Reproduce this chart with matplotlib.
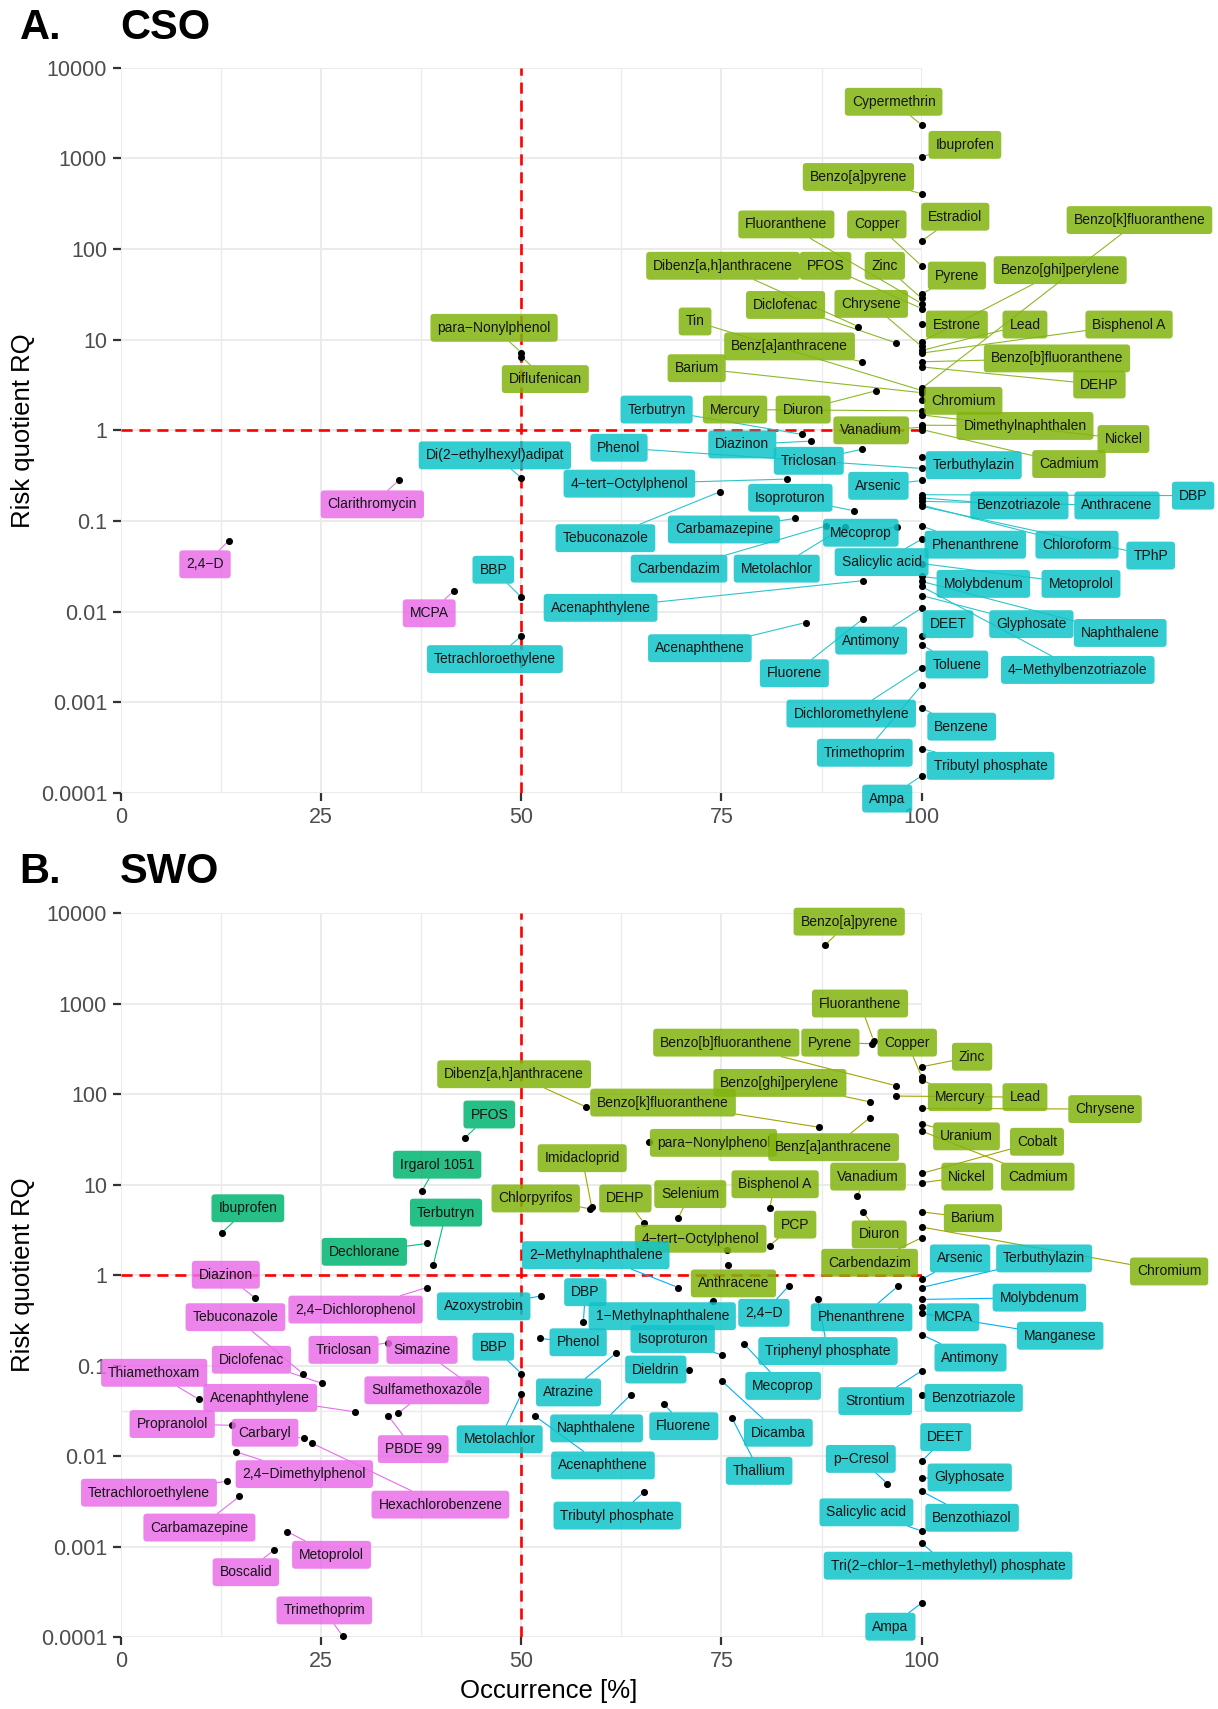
import numpy as np
import matplotlib
matplotlib.use('Agg')
import matplotlib.pyplot as plt
from matplotlib.ticker import NullLocator
from matplotlib import font_manager

plt.rcParams['font.family'] = ['Liberation Sans', 'DejaVu Sans']

# ---------------- CSO data ----------------
cso_names = ['Cypermethrin', 'Ibuprofen', 'Benzo[a]pyrene', 'Estradiol', 'Fluoranthene', 'Copper',
             'Benzo[k]fluoranthene', 'Dibenz[a,h]anthracene', 'PFOS', 'Zinc', 'Pyrene',
             'Benzo[ghi]perylene', 'Diclofenac', 'Chrysene', 'Tin', 'Estrone', 'Lead', 'Bisphenol A',
             'Benz[a]anthracene', 'Benzo[b]fluoranthene', 'Barium', 'DEHP', 'Chromium', 'Mercury',
             'Diuron', 'Vanadium', 'Dimethylnaphthalen', 'Nickel', 'Cadmium', 'para-Nonylphenol',
             'Diflufenican',
             'Terbutryn', 'Phenol', 'Di(2-ethylhexyl)adipat', 'Diazinon', 'Triclosan',
             '4-tert-Octylphenol', 'Arsenic', 'Isoproturon', 'Terbuthylazin', 'Benzotriazole',
             'Anthracene', 'DBP', 'Tebuconazole', 'Carbamazepine', 'Carbendazim', 'Metolachlor',
             'Mecoprop', 'Salicylic acid', 'Phenanthrene', 'Chloroform', 'TPhP', 'BBP', 'Molybdenum',
             'Metoprolol', 'Acenaphthylene', 'DEET', 'Glyphosate', 'Naphthalene', 'Acenaphthene',
             'Antimony', 'Toluene', '4-Methylbenzotriazole', 'Tetrachloroethylene', 'Fluorene',
             'Dichloromethylene', 'Benzene', 'Trimethoprim', 'Tributyl phosphate', 'Ampa',
             '2,4-D', 'Clarithromycin', 'MCPA']
cso_occ = [100, 100, 100, 100, 100, 100, 100, 92.1, 100, 100, 100,
           100, 96.8, 100, 100, 100, 100, 100, 92.6, 100, 100, 100, 100, 100,
           94.3, 100, 100, 100, 100, 50, 50,
           85.1, 100, 50, 86.2, 92.6, 83.15, 100, 91.5, 100, 100,
           100, 100, 74.8, 84.2, 88.0, 90.4, 96.9, 100, 100, 100, 100, 50, 100,
           100, 92.7, 100, 100, 100, 85.5, 100, 100, 100, 50, 92.7,
           100, 100, 100, 100, 100,
           13.5, 34.7, 41.6]
cso_rq = [2320, 1040, 406, 122, 25, 65, 2.9, 13.9, 22, 28.5, 32,
          9.5, 9.2, 8.4, 2.75, 14.9, 7.6, 7.1, 5.7, 5.7, 2.6, 5.0, 2.16, 1.64,
          2.73, 1.08, 1.14, 1.48, 1.02, 7.2, 6.5,
          0.9, 0.38, 0.30, 0.76, 0.62, 0.29, 0.28, 0.13, 0.51, 0.18,
          0.165, 0.195, 0.21, 0.107, 0.088, 0.087, 0.086, 0.063, 0.088, 0.15, 0.145, 0.0145, 0.0245,
          0.034, 0.022, 0.0054, 0.0151, 0.0216, 0.0076, 0.011, 0.0043, 0.019, 0.0054, 0.0084,
          0.0024, 0.00086, 0.00155, 0.00031, 0.000155,
          0.061, 0.28, 0.017]
# label placement (x in %, y as log10 RQ)
cso_lab_x = [96.5, 105.4, 92.1, 104.2, 83.1, 94.4, 127.2, 75.2, 88.0, 95.4, 104.4,
             117.3, 83.0, 93.7, 71.7, 104.4, 112.9, 125.9, 83.5, 116.9, 71.9, 122.2, 105.2, 76.7,
             85.2, 93.7, 112.9, 125.2, 118.4, 46.6, 53.0,
             66.9, 62.2, 46.7, 77.6, 85.9, 63.5, 94.6, 83.6, 106.5, 112.2,
             124.4, 133.9, 60.5, 75.3, 69.7, 81.9, 92.4, 95.0, 106.7, 119.4, 128.6, 46.5, 107.7,
             119.9, 59.9, 103.3, 113.7, 124.8, 72.3, 93.7, 104.4, 119.5, 46.7, 84.1,
             91.2, 105.0, 92.9, 108.6, 95.7,
             10.5, 31.4, 38.5]
cso_lab_logy = [3.622, 3.147, 2.793, 2.355, 2.27, 2.27, 2.318, 1.814, 1.814, 1.814, 1.706,
                1.766, 1.382, 1.394, 1.2, 1.166, 1.166, 1.166, 0.925, 0.793, 0.685, 0.505, 0.325, 0.229,
                0.229, 0.0, 0.048, -0.096, -0.372, 1.13, 0.565,
                0.229, -0.192, -0.276, -0.156, -0.336, -0.588, -0.612, -0.744, -0.384, -0.828,
                -0.828, -0.72, -1.189, -1.093, -1.525, -1.525, -1.129, -1.453, -1.261, -1.261, -1.381, -1.537, -1.693,
                -1.693, -1.957, -2.137, -2.137, -2.234, -2.402, -2.318, -2.582, -2.642, -2.522, -2.678,
                -3.123, -3.267, -3.555, -3.699, -4.06,
                -1.477, -0.816, -2.017]

# ---------------- SWO data ----------------
swo_names = ['Benzo[a]pyrene', 'Fluoranthene', 'Benzo[b]fluoranthene', 'Pyrene', 'Copper', 'Zinc',
             'Dibenz[a,h]anthracene', 'Benzo[ghi]perylene', 'Benzo[k]fluoranthene', 'Mercury', 'Lead',
             'Chrysene', 'Uranium', 'Cobalt', 'para-Nonylphenol', 'Benz[a]anthracene', 'Imidacloprid',
             'Vanadium', 'Nickel', 'Cadmium', 'Chlorpyrifos', 'DEHP', 'Selenium', 'Bisphenol A', 'PCP',
             '4-tert-Octylphenol', 'Diuron', 'Barium', 'Carbendazim', 'Anthracene', 'Chromium',
             'PFOS', 'Irgarol 1051', 'Ibuprofen', 'Terbutryn', 'Dechlorane',
             'Diazinon', 'Tebuconazole', '2,4-Dichlorophenol', 'Triclosan', 'Simazine', 'Diclofenac',
             'Thiamethoxam', 'Sulfamethoxazole', 'Acenaphthylene', 'Propranolol', 'Carbaryl', 'PBDE 99',
             '2,4-Dimethylphenol', 'Tetrachloroethylene', 'Hexachlorobenzene', 'Carbamazepine',
             'Metoprolol', 'Boscalid', 'Trimethoprim',
             '2-Methylnaphthalene', 'Azoxystrobin', 'DBP', '1-Methylnaphthalene', '2,4-D', 'Phenol',
             'Isoproturon', 'BBP', 'Triphenyl phosphate', 'Phenanthrene', 'Dieldrin', 'Atrazine',
             'Mecoprop', 'Strontium', 'Naphthalene', 'Fluorene', 'Dicamba', 'Metolachlor', 'Acenaphthene',
             'Thallium', 'Tributyl phosphate', 'p-Cresol', 'Salicylic acid', 'Arsenic', 'Terbuthylazin',
             'Molybdenum', 'MCPA', 'Manganese', 'Antimony', 'Benzotriazole', 'DEET', 'Glyphosate',
             'Benzothiazol', 'Tri(2-chlor-1-methylethyl) phosphate', 'Ampa']
swo_occ = [87.9, 94.0, 96.75, 93.8, 100, 100, 58.1, 93.55, 87.2, 100, 96.75,
           100, 100, 100, 65.9, 93.55, 58.8, 91.9, 100, 100, 58.6, 65.3, 69.6, 81.0, 81.0,
           75.7, 92.7, 100, 100, 75.8, 100,
           42.95, 37.6, 12.6, 39.0, 38.2,
           16.8, 22.7, 38.2, 33.4, 43.3, 25.1, 9.7, 34.6, 29.2, 13.9, 22.8, 33.4,
           14.4, 13.2, 23.9, 14.8, 20.8, 19.1, 27.7,
           69.6, 52.5, 57.75, 74.0, 83.4, 52.3, 75.1, 50, 87.0, 97.0, 71.0, 61.8,
           77.8, 100, 63.7, 67.8, 75.1, 50, 51.7, 76.3, 65.3, 95.7, 100, 100, 100,
           100, 100, 100, 100, 100, 100, 100, 100, 100, 100]
swo_rq = [4390, 390, 124, 360, 155, 200, 72, 82, 43, 143, 95,
          69.5, 47, 13.3, 29.7, 55, 5.6, 7.5, 10.5, 39, 5.4, 3.8, 4.3, 5.5, 2.12,
          1.9, 5.0, 5.0, 2.59, 1.3, 3.4,
          32.7, 8.6, 2.94, 1.29, 2.24,
          0.555, 0.082, 0.73, 0.18, 0.064, 0.064, 0.0428, 0.0297, 0.031, 0.022, 0.0158, 0.028,
          0.0112, 0.0053, 0.0139, 0.0036, 0.00147, 0.00092, 0.000103,
          0.73, 0.59, 0.305, 0.52, 0.76, 0.2, 0.131, 0.082, 0.545, 0.75, 0.09, 0.137,
          0.175, 0.088, 0.048, 0.038, 0.067, 0.0486, 0.0278, 0.0266, 0.0040, 0.005, 0.0015, 0.9, 0.73,
          0.54, 0.45, 0.378, 0.22, 0.048, 0.0088, 0.00575, 0.0041, 0.0011, 0.00024]
swo_lab_x = [90.95, 92.3, 75.6, 88.6, 98.2, 106.3, 49.1, 82.3, 67.7, 104.8, 112.9,
             122.9, 105.6, 114.4, 74.0, 89.0, 57.6, 93.3, 105.7, 114.5, 51.8, 63.0, 71.1, 81.7, 84.2,
             72.4, 94.7, 106.4, 93.5, 76.5, 130.9,
             46.0, 39.5, 15.85, 40.6, 30.4,
             13.1, 14.3, 29.3, 27.8, 37.6, 16.3, 4.15, 38.2, 17.4, 6.4, 18.0, 36.5,
             22.9, 3.5, 39.9, 9.8, 26.3, 15.6, 25.4,
             59.3, 45.3, 58.0, 67.6, 80.3, 57.1, 68.9, 46.5, 88.3, 92.5, 66.8, 55.9,
             82.7, 94.2, 59.4, 70.3, 82.1, 47.3, 60.2, 79.7, 62.0, 92.4, 93.1, 104.8, 115.3,
             114.7, 103.9, 117.3, 106.1, 106.5, 103.0, 106.0, 106.3, 103.3, 96.1]
swo_lab_logy = [3.904, 3.0, 2.568, 2.568, 2.568, 2.412, 2.219, 2.123, 1.906, 1.966, 1.966,
                1.834, 1.533, 1.473, 1.461, 1.413, 1.292, 1.088, 1.088, 1.088, 0.847, 0.847, 0.895, 1.004, 0.558,
                0.402, 0.45, 0.63, 0.137, -0.091, 0.041,
                1.774, 1.22, 0.739, 0.691, 0.258,
                0.005, -0.464, -0.38, -0.825, -0.825, -0.934, -1.078, -1.271, -1.355, -1.644, -1.74, -1.921,
                -2.197, -2.402, -2.534, -2.787, -3.088, -3.28, -3.702,
                0.221, -0.344, -0.188, -0.453, -0.416, -0.741, -0.705, -0.79, -0.838, -0.465, -1.042, -1.295,
                -1.223, -1.391, -1.692, -1.668, -1.74, -1.812, -2.101, -2.161, -2.655, -2.029, -2.619, 0.185, 0.185,
                -0.248, -0.465, -0.669, -0.91, -1.355, -1.788, -2.234, -2.679, -3.208, -3.882]

# ---------------- styling ----------------
box_fill = {'olive': '#83B40E', 'teal': '#0FC3C8', 'pink': '#E96EE9', 'green': '#00B470'}
seg_cso = {'olive': '#8DB828', 'teal': '#2CC5CB', 'pink': '#E97BE9', 'green': '#00B470'}
seg_swo = {'olive': '#A3A500', 'teal': '#00B0F6', 'pink': '#E76BF3', 'green': '#00BF7D'}

# labels look condensed in the original: use the narrow face when it is installed
installed = {f.name for f in font_manager.fontManager.ttflist}
if 'Liberation Sans Narrow' in installed:
    LAB_FAMILY = ['Liberation Sans Narrow', 'DejaVu Sans']
    LAB_FS = 11.6
    BOX = 'round,pad=0.32,rounding_size=0.22'
else:
    LAB_FAMILY = ['Liberation Sans', 'DejaVu Sans']
    LAB_FS = 10.0
    BOX = 'round,pad=0.5,rounding_size=0.25'


def quadrant(occ, rq):
    if occ >= 50:
        return 'olive' if rq >= 1 else 'teal'
    return 'green' if rq >= 1 else 'pink'


def draw_panel(ax, names, occ, rq, lab_x, lab_logy, segc, minor_y=()):
    ax.set_yscale('log')
    ax.set_xlim(0, 100)
    ax.set_ylim(1e-4, 1e4)
    ax.set_xticks([0, 25, 50, 75, 100])
    ax.set_xticks([12.5, 37.5, 62.5, 87.5], minor=True)
    ax.set_yticks([1e-4, 1e-3, 1e-2, 1e-1, 1, 10, 100, 1000, 10000])
    ax.set_yticklabels(['0.0001', '0.001', '0.01', '0.1', '1', '10', '100', '1000', '10000'])
    ax.yaxis.set_minor_locator(NullLocator())
    ax.grid(which='major', color='#EBEBEB', lw=1.4)
    ax.grid(which='minor', axis='x', color='#EBEBEB', lw=1.0)
    for v in minor_y:
        ax.axhline(v, color='#EBEBEB', lw=1.0, zorder=0)
    ax.set_axisbelow(True)
    for s in ax.spines.values():
        s.set_visible(False)
    ax.tick_params(which='major', length=6, width=1.6, color='#333333',
                   labelsize=15.5, labelcolor='#4D4D4D', pad=4)
    ax.tick_params(which='minor', length=0)

    ax.axvline(50, color='red', ls=(0, (4.2, 2.6)), lw=1.9, zorder=1.5)
    ax.axhline(1, color='red', ls=(0, (4.2, 2.6)), lw=1.9, zorder=1.5)

    ax.scatter(occ, rq, s=26, c='black', linewidths=0, zorder=3, clip_on=False)

    for n, x, y, lx, ly in zip(names, occ, rq, lab_x, lab_logy):
        q = quadrant(x, y)
        txt = n.replace('-', '\u2212')
        ly = 10 ** ly
        # segment from the label edge to the point (drawn below all labels)
        ax.annotate(txt, xy=(x, y), xytext=(lx, ly), ha='center', va='center',
                    fontsize=LAB_FS, family=LAB_FAMILY, color='none',
                    bbox=dict(boxstyle=BOX, fc='none', ec='none'),
                    arrowprops=dict(arrowstyle='-', color=segc[q], lw=0.8,
                                    shrinkA=0, shrinkB=2.5),
                    annotation_clip=False, zorder=2)
        ax.text(lx, ly, txt, ha='center', va='center', fontsize=LAB_FS, family=LAB_FAMILY,
                color='#141414',
                bbox=dict(boxstyle=BOX, fc=box_fill[q], ec='none', alpha=0.85),
                zorder=4, clip_on=False)


fig = plt.figure(figsize=(12.18, 17.09), dpi=100)
ax1 = fig.add_axes([0.0993, 0.5359, 0.6574, 0.4246])
ax2 = fig.add_axes([0.0993, 0.0419, 0.6574, 0.4239])

draw_panel(ax1, cso_names, cso_occ, cso_rq, cso_lab_x, cso_lab_logy, seg_cso)
draw_panel(ax2, swo_names, swo_occ, swo_rq, swo_lab_x, swo_lab_logy, seg_swo, minor_y=[10 ** -1.5])

fig.text(0.0161, 0.977, 'A.', fontsize=30, fontweight='bold', va='baseline')
fig.text(0.0984, 0.977, 'CSO', fontsize=30, fontweight='bold', va='baseline')
fig.text(0.0161, 0.4832, 'B.', fontsize=30, fontweight='bold', va='baseline')
fig.text(0.0984, 0.4832, 'SWO', fontsize=30, fontweight='bold', va='baseline')

fig.text(0.0191, 1 - 431 / 1709, 'Risk quotient RQ', rotation=90, fontsize=18.5,
         ha='center', va='center')
fig.text(0.0191, 1 - 1275 / 1709, 'Risk quotient RQ', rotation=90, fontsize=18.5,
         ha='center', va='center')
fig.text(0.4503, 0.0105, 'Occurrence [%]', fontsize=18.5, ha='center', va='center')

fig.savefig('out.png', dpi=100)
